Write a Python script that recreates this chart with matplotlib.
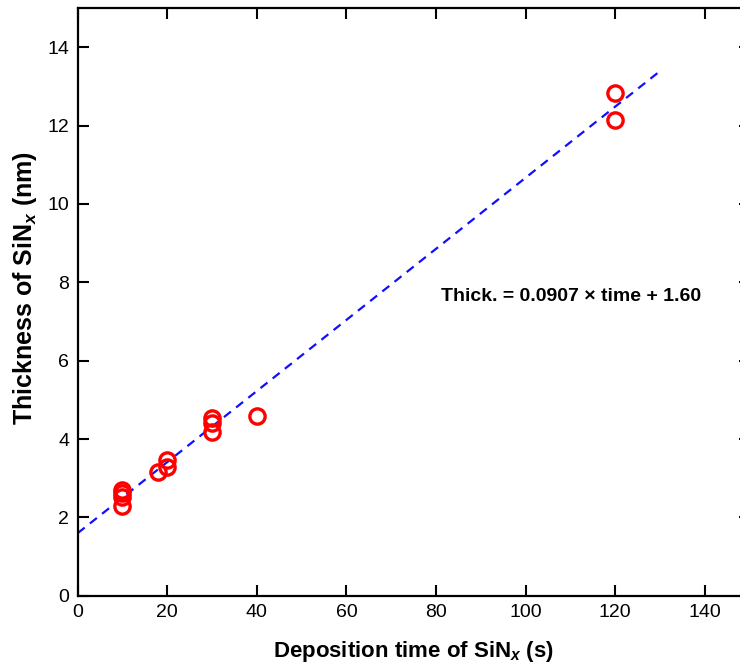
import matplotlib
matplotlib.use("Agg")
import matplotlib.pyplot as plt
import numpy as np

plt.rcParams["font.family"] = ["Liberation Sans", "DejaVu Sans"]
plt.rcParams["mathtext.fontset"] = "custom"
plt.rcParams["mathtext.rm"] = "Liberation Sans:bold"
plt.rcParams["mathtext.it"] = "Liberation Sans:italic:bold"

# deposition time (s) and measured thickness (nm)
time_s = [10, 10, 10, 10, 18, 20, 20, 30, 30, 30, 40, 120, 120]
thick_nm = [2.70, 2.62, 2.52, 2.30, 3.15, 3.47, 3.30, 4.53, 4.41, 4.19, 4.60, 12.84, 12.13]

# linear fit shown on the chart
slope = 0.0907
intercept = 1.60
fit_range = [0, 130]

x_ticks = [0, 20, 40, 60, 80, 100, 120, 140]
y_ticks = [0, 2, 4, 6, 8, 10, 12, 14]

fig = plt.figure(figsize=(7.4, 6.68), dpi=100)
ax = fig.add_axes([0.105, 0.108, 0.908, 0.880])

xf = np.array(fit_range)
ax.plot(xf, slope * xf + intercept, "--", color="#1010ff", lw=1.6, dashes=(4, 3), zorder=2)
ax.plot(time_s, thick_nm, "o", mfc="none", mec="#ff0000", ms=11, mew=2.4, zorder=3)

ax.text(81, 7.63, "Thick. = 0.0907 \u00d7 time + 1.60", fontsize=14, fontweight="bold",
        va="center", ha="left")

ax.set_xlim(0, 150)
ax.set_ylim(0, 15)
ax.set_xticks(x_ticks)
ax.set_yticks(y_ticks)
ax.tick_params(direction="in", length=8, width=1.5, labelsize=14, top=True, right=True,
               pad=6)
for sp in ax.spines.values():
    sp.set_linewidth(1.6)

ax.set_xlabel(r"Deposition time of SiN$_\mathit{x}$ (s)", fontsize=16, fontweight="bold",
              labelpad=13)
ax.set_ylabel(r"Thickness of SiN$_\mathit{x}$ (nm)", fontsize=18, fontweight="bold")
ax.yaxis.set_label_coords(-0.058, 0.523)

fig.savefig("out.png", dpi=100, facecolor="white")
